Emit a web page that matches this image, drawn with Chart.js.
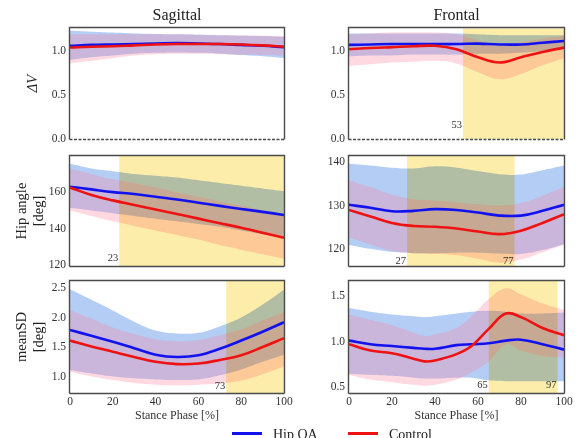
<!DOCTYPE html>
<html><head><meta charset="utf-8">
<script src="https://cdn.jsdelivr.net/npm/chart.js@4/dist/chart.umd.min.js"></script>
<style>
html,body{margin:0;padding:0;background:#fff;width:579px;height:438px;overflow:hidden;position:relative;}
.box{position:absolute;}
.box canvas{display:block;}
.lg{position:absolute;font-family:'Liberation Serif','Times New Roman',serif;font-size:14px;line-height:14px;color:#222;white-space:nowrap;}
.sw{position:absolute;height:3px;}
</style></head><body>
<div class="box" style="left:0px;top:0px"><canvas id="c1" width="300" height="150"></canvas></div>
<div class="box" style="left:289px;top:0px"><canvas id="c2" width="290" height="150"></canvas></div>
<div class="box" style="left:0px;top:144px"><canvas id="c3" width="300" height="133"></canvas></div>
<div class="box" style="left:289px;top:144px"><canvas id="c4" width="290" height="133"></canvas></div>
<div class="box" style="left:0px;top:269px"><canvas id="c5" width="300" height="164"></canvas></div>
<div class="box" style="left:289px;top:269px"><canvas id="c6" width="290" height="164"></canvas></div>
<div class="sw" style="left:232px;top:432px;width:30px;background:#1212ee"></div>
<div class="lg" style="left:273px;top:428px">Hip OA</div>
<div class="sw" style="left:348px;top:432px;width:30px;background:#ee1212"></div>
<div class="lg" style="left:389px;top:428px">Control</div>
<script>
// ---------- data ----------
const phase = [0,10,20,30,40,50,60,70,80,90,100];
const phaseFrontalSD = [0,10,20,30,35,40,50,57,65,73,80,90,100];
const xTicks = [0,20,40,60,80,100];
const columnTitles = ['Sagittal','Frontal'];
const seriesNames = ['Hip OA','Control'];

// Sagittal ΔV
const sagDV_oa      = [1.06,1.07,1.075,1.08,1.085,1.09,1.085,1.08,1.07,1.06,1.045];
const sagDV_oaUp    = [1.23,1.22,1.21,1.2,1.195,1.19,1.185,1.18,1.175,1.17,1.16];
const sagDV_oaLo    = [0.9,0.93,0.95,0.97,0.98,0.985,0.98,0.97,0.955,0.94,0.92];
const sagDV_ctl     = [1.04,1.05,1.055,1.065,1.075,1.08,1.08,1.08,1.075,1.065,1.05];
const sagDV_ctlUp   = [1.19,1.19,1.19,1.19,1.19,1.19,1.185,1.18,1.18,1.175,1.17];
const sagDV_ctlLo   = [0.86,0.89,0.92,0.95,0.965,0.97,0.97,0.965,0.96,0.955,0.95];
// Frontal ΔV
const frDV_oa       = [1.07,1.075,1.08,1.08,1.08,1.08,1.085,1.075,1.075,1.095,1.115];
const frDV_oaUp     = [1.2,1.2,1.2,1.2,1.2,1.2,1.19,1.18,1.18,1.18,1.18];
const frDV_oaLo     = [0.94,0.95,0.95,0.96,0.96,0.96,0.97,0.97,0.98,1.0,1.02];
const frDV_ctl      = [1.02,1.035,1.045,1.055,1.06,1.02,0.93,0.87,0.93,0.99,1.04];
const frDV_ctlUp    = [1.19,1.2,1.21,1.21,1.21,1.19,1.12,1.06,1.1,1.14,1.17];
const frDV_ctlLo    = [0.83,0.85,0.87,0.88,0.89,0.86,0.76,0.68,0.74,0.84,0.92];
// Sagittal hip angle
const sagHip_oa     = [163,161.5,160,159,157.5,156,154.2,152.5,150.8,149.2,147.5];
const sagHip_oaUp   = [175.5,173,171.5,170,169,168,166.5,165,163.5,162,160.5];
const sagHip_oaLo   = [151.5,150,148.5,147,145.5,144,142.5,141,139,137,135];
const sagHip_ctl    = [162.5,158.5,155.5,153,150.5,148,145.5,143,140.5,137.8,135];
const sagHip_ctlUp  = [173,170,167,165,162.5,160,157.5,155,152.5,150,147.5];
const sagHip_ctlLo  = [150,147,144,141.5,139,136.5,134,131,128.5,126,123.5];
// Frontal hip angle
const frHip_oa      = [130.2,129.5,128.7,128.8,129.2,129,128.4,127.7,127.7,128.8,130.2];
const frHip_oaUp    = [139.7,139.3,138.8,138.6,139.1,138.8,138,137.3,137.2,138.2,139.3];
const frHip_oaLo    = [120.9,120,119.3,119,119,119.1,119.1,118.9,118.8,119.7,121];
const frHip_ctl     = [129,127.5,126,125.3,125.1,124.7,124,123.4,124.2,126,128];
const frHip_ctlUp   = [135.9,134.3,132.5,131.5,131.2,130.8,130.3,130,130.6,132.3,134.4];
const frHip_ctlLo   = [122.6,121,119.5,119,118.8,118.5,117.7,116.8,117.5,119.2,121];
// Sagittal meanSD
const sagSD_oa      = [1.79,1.69,1.59,1.48,1.37,1.33,1.36,1.47,1.61,1.76,1.92];
const sagSD_oaUp    = [2.48,2.3,2.12,1.93,1.78,1.73,1.74,1.85,2.0,2.22,2.47];
const sagSD_oaLo    = [1.11,1.05,1.0,0.97,0.95,0.94,0.95,1.02,1.12,1.25,1.37];
const sagSD_ctl     = [1.61,1.51,1.42,1.33,1.25,1.21,1.22,1.28,1.36,1.5,1.65];
const sagSD_ctlUp   = [2.13,1.98,1.83,1.72,1.63,1.6,1.62,1.7,1.8,1.95,2.1];
const sagSD_ctlLo   = [1.08,1.0,0.94,0.89,0.86,0.85,0.86,0.88,0.93,1.04,1.17];
// Frontal meanSD (x = phaseFrontalSD)
const frSD_oa       = [1.01,0.97,0.95,0.93,0.92,0.92,0.96,0.97,0.98,1.01,1.02,0.97,0.91];
const frSD_oaUp     = [1.37,1.33,1.3,1.28,1.27,1.28,1.31,1.33,1.34,1.33,1.31,1.31,1.32];
const frSD_oaLo     = [0.64,0.63,0.62,0.6,0.59,0.59,0.6,0.6,0.57,0.56,0.56,0.56,0.56];
const frSD_ctl      = [0.97,0.9,0.87,0.81,0.78,0.79,0.86,0.95,1.14,1.31,1.27,1.15,1.07];
const frSD_ctlUp    = [1.3,1.24,1.18,1.1,1.06,1.08,1.15,1.28,1.47,1.59,1.52,1.42,1.35];
const frSD_ctlLo    = [0.63,0.58,0.55,0.52,0.51,0.52,0.58,0.66,0.78,0.97,0.9,0.84,0.82];

// y tick labels
const yTicksDV = [0.0,0.5,1.0];
const yTicksSagHip = [120,140,160];
const yTicksFrHip = [120,130,140];
const yTicksSagSD = [1.0,1.5,2.0,2.5];
const yTicksFrSD = [0.5,1.0,1.5];
// significant intervals (% stance)
const sigFrDV = [53,100];
const sigSagHip = [23,100];
const sigFrHip = [27,77];
const sigSagSD = [73,100];
const sigFrSD = [65,97];

// ---------- style ----------
const SERIF = "'Liberation Serif','Times New Roman',serif";
const BLUE = '#1212ee', RED = '#ee1212';
const BLUE_BAND = 'rgba(85,142,232,0.44)', PINK_BAND = 'rgba(255,130,160,0.30)';
const YELLOW = '#fcedab';
const TXT = '#333';
Chart.defaults.font.family = SERIF;

const overlay = {
  id: 'overlay',
  beforeDraw(chart) {
    const {ctx, chartArea: a} = chart;
    ctx.save(); ctx.fillStyle = '#fff';
    ctx.fillRect(a.left, a.top, a.right - a.left, a.bottom - a.top);
    ctx.restore();
  },
  beforeDatasetDraw(chart, args, opts) {
    if (args.index !== 1 || !opts.sig) return;
    const {ctx, chartArea: a, scales: {x}} = chart;
    const x0 = x.getPixelForValue(opts.sig[0]), x1 = x.getPixelForValue(opts.sig[1]);
    ctx.save();
    ctx.beginPath(); ctx.rect(a.left, a.top, a.right - a.left, a.bottom - a.top); ctx.clip();
    ctx.globalCompositeOperation = 'multiply';
    ctx.fillStyle = YELLOW;
    ctx.fillRect(x0, a.top, x1 - x0, a.bottom - a.top);
    ctx.restore();
  },
  afterDraw(chart, args, opts) {
    const {ctx, chartArea: a, scales: {x}} = chart;
    ctx.save();
    if (opts.sig) {
      ctx.font = '10.5px ' + SERIF; ctx.fillStyle = TXT;
      ctx.textAlign = 'right'; ctx.textBaseline = 'middle';
      opts.sig.forEach(v => {
        if (v > 0 && v < 100) ctx.fillText(String(v), x.getPixelForValue(v) - 1, a.bottom - (opts.labelOffset || 7));
      });
    }
    ctx.strokeStyle = '#4a4a4a'; ctx.lineWidth = 1.4;
    const L = Math.round(a.left) - 0.5, R = Math.round(a.right) + 0.5, T = Math.round(a.top) - 0.5, B = Math.round(a.bottom) + 0.5;
    ctx.beginPath(); ctx.moveTo(L, B); ctx.lineTo(L, T); ctx.lineTo(R, T); ctx.lineTo(R, B); ctx.stroke();
    if (opts.dashedBottom) ctx.setLineDash([3, 1.5]);
    ctx.beginPath(); ctx.moveTo(L, B); ctx.lineTo(R, B); ctx.stroke();
    ctx.restore();
  }
};

const pts = (xs, ys) => xs.map((v, i) => ({x: v, y: ys[i]}));

function panel(id, o) {
  const lineDs = (lab, arr, col) => ({label: lab, data: pts(o.x, arr), borderColor: col, borderWidth: 2.6, pointRadius: 0, fill: false, tension: 0.4});
  const bandDs = (arr, fill, bg) => ({data: pts(o.x, arr), borderWidth: 0, borderColor: 'rgba(0,0,0,0)', pointRadius: 0, fill: fill, backgroundColor: bg, tension: 0.4});
  new Chart(document.getElementById(id), {
    type: 'line',
    data: {datasets: [
      lineDs(seriesNames[1], o.ctl, RED),
      lineDs(seriesNames[0], o.oa, BLUE),
      bandDs(o.ctlUp, false, PINK_BAND),
      bandDs(o.ctlLo, '-1', PINK_BAND),
      bandDs(o.oaUp, false, BLUE_BAND),
      bandDs(o.oaLo, '-1', BLUE_BAND)
    ]},
    plugins: [overlay],
    options: {
      responsive: false, animation: false, devicePixelRatio: 1,
      layout: {padding: {top: o.padTop, bottom: o.padBottom, left: 0, right: o.padRight}},
      plugins: {
        legend: {display: false}, tooltip: {enabled: false},
        title: {display: !!o.title, text: o.title || '', font: {family: SERIF, size: 16, weight: 'normal'}, color: '#222', padding: {top: 6, bottom: 3}, fullSize: false},
        overlay: {sig: o.sig, labelOffset: o.labelOffset, dashedBottom: o.dashedBottom}
      },
      scales: {
        x: {
          type: 'linear', min: 0, max: 100, display: !!o.showX,
          grid: {display: false, drawTicks: false}, border: {display: false},
          afterBuildTicks: s => { s.ticks = xTicks.map(v => ({value: v})); },
          ticks: {font: {family: SERIF, size: 11.5}, color: TXT, padding: 2, maxRotation: 0},
          title: {display: true, text: 'Stance Phase [%]', font: {family: SERIF, size: 12}, color: TXT, padding: {top: 0, bottom: 10}},
          afterFit: s => { s.height = o.showX ? 40 : 0; }
        },
        y: {
          type: 'linear', min: o.ymin, max: o.ymax,
          grid: {display: false, drawTicks: false}, border: {display: false},
          afterBuildTicks: s => { s.ticks = o.yTicks.map(v => ({value: v})); },
          ticks: {font: {family: SERIF, size: 11.5}, color: TXT, padding: 4, callback: v => v.toFixed(o.dec)},
          title: {display: !!o.ytitle, text: o.ytitle || '', font: {family: SERIF, size: 14.5, style: o.yitalic ? 'italic' : 'normal'}, color: '#222', padding: {top: o.ytitlePad || 0, bottom: 0}},
          afterFit: s => { s.width = o.axisW; }
        }
      }
    }
  });
}

const L = {axisW: 70, padRight: 16}, R = {axisW: 60, padRight: 15};
panel('c1', Object.assign({}, L, {x: phase, oa: sagDV_oa, oaUp: sagDV_oaUp, oaLo: sagDV_oaLo, ctl: sagDV_ctl, ctlUp: sagDV_ctlUp, ctlLo: sagDV_ctlLo,
  ymin: 0, ymax: 1.26, yTicks: yTicksDV, dec: 1, title: columnTitles[0], padTop: 0, padBottom: 8, ytitle: 'ΔV', yitalic: true, ytitlePad: 24, dashedBottom: true}));
panel('c2', Object.assign({}, R, {x: phase, oa: frDV_oa, oaUp: frDV_oaUp, oaLo: frDV_oaLo, ctl: frDV_ctl, ctlUp: frDV_ctlUp, ctlLo: frDV_ctlLo,
  ymin: 0, ymax: 1.26, yTicks: yTicksDV, dec: 1, title: columnTitles[1], padTop: 0, padBottom: 8, sig: sigFrDV, labelOffset: 14, dashedBottom: true}));
panel('c3', Object.assign({}, L, {x: phase, oa: sagHip_oa, oaUp: sagHip_oaUp, oaLo: sagHip_oaLo, ctl: sagHip_ctl, ctlUp: sagHip_ctlUp, ctlLo: sagHip_ctlLo,
  ymin: 119.5, ymax: 179.8, yTicks: yTicksSagHip, dec: 0, padTop: 12, padBottom: 8, ytitle: ['Hip angle', '[deg]'], ytitlePad: 13, sig: sigSagHip, labelOffset: 8}));
panel('c4', Object.assign({}, R, {x: phase, oa: frHip_oa, oaUp: frHip_oaUp, oaLo: frHip_oaLo, ctl: frHip_ctl, ctlUp: frHip_ctlUp, ctlLo: frHip_ctlLo,
  ymin: 116, ymax: 141.5, yTicks: yTicksFrHip, dec: 0, padTop: 12, padBottom: 8, sig: sigFrHip, labelOffset: 5}));
panel('c5', Object.assign({}, L, {x: phase, oa: sagSD_oa, oaUp: sagSD_oaUp, oaLo: sagSD_oaLo, ctl: sagSD_ctl, ctlUp: sagSD_ctlUp, ctlLo: sagSD_ctlLo,
  ymin: 0.72, ymax: 2.62, yTicks: yTicksSagSD, dec: 1, padTop: 12, padBottom: 0, showX: true, ytitle: ['meanSD', '[deg]'], ytitlePad: 13, sig: sigSagSD, labelOffset: 7}));
panel('c6', Object.assign({}, R, {x: phaseFrontalSD, oa: frSD_oa, oaUp: frSD_oaUp, oaLo: frSD_oaLo, ctl: frSD_ctl, ctlUp: frSD_ctlUp, ctlLo: frSD_ctlLo,
  ymin: 0.43, ymax: 1.67, yTicks: yTicksFrSD, dec: 1, padTop: 12, padBottom: 0, showX: true, sig: sigFrSD, labelOffset: 8}));
</script>
</body></html>
